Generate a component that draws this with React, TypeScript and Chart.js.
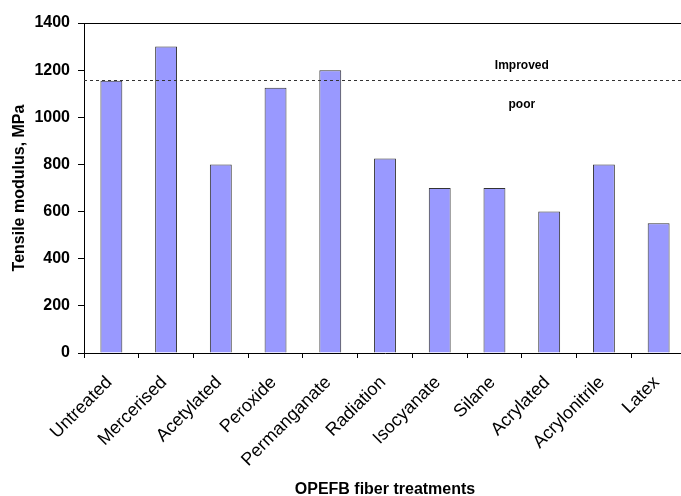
import React, { useEffect, useRef } from "react";
import { Chart, registerables } from "chart.js";

Chart.register(...registerables);

const categories = [
  "Untreated",
  "Mercerised",
  "Acetylated",
  "Peroxide",
  "Permanganate",
  "Radiation",
  "Isocyanate",
  "Silane",
  "Acrylated",
  "Acrylonitrile",
  "Latex",
];
const modulusValues = [1155, 1300, 800, 1125, 1200, 825, 700, 700, 600, 800, 550];
const thresholdValue = 1157;
const improvedLabel = "Improved";
const poorLabel = "poor";
const improvedLabelValue = 1220;
const poorLabelValue = 1052;
const labelCategoryPos = 7.5;
const yTicksMax = 1400;
const yTickStep = 200;

const FONT = "'Liberation Sans', Arial, sans-serif";

const overlayPlugin = {
  id: "overlay",
  afterDatasetsDraw(chart: any) {
    const { ctx, chartArea, scales } = chart;
    const y = scales.y;
    const x = scales.x;
    ctx.save();
    ctx.strokeStyle = "#000";
    ctx.lineWidth = 1;
    ctx.beginPath();
    ctx.moveTo(chartArea.left, Math.round(chartArea.top) + 0.5);
    ctx.lineTo(chartArea.right, Math.round(chartArea.top) + 0.5);
    ctx.lineTo(chartArea.right, chartArea.bottom);
    ctx.stroke();
    const ty = Math.round(y.getPixelForValue(thresholdValue)) + 0.5;
    ctx.strokeStyle = "#333";
    ctx.setLineDash([3, 3]);
    ctx.beginPath();
    ctx.moveTo(chartArea.left, ty);
    ctx.lineTo(chartArea.right, ty);
    ctx.stroke();
    ctx.setLineDash([]);
    ctx.fillStyle = "#000";
    ctx.font = `bold 12px ${FONT}`;
    ctx.textAlign = "center";
    ctx.textBaseline = "middle";
    const lx = x.getPixelForValue(labelCategoryPos);
    ctx.fillText(improvedLabel, lx, y.getPixelForValue(improvedLabelValue));
    ctx.fillText(poorLabel, lx, y.getPixelForValue(poorLabelValue));
    ctx.restore();
  },
};

export default function App() {
  const canvasRef = useRef<HTMLCanvasElement | null>(null);

  useEffect(() => {
    if (!canvasRef.current) return;
    const chart = new Chart(canvasRef.current, {
      type: "bar",
      data: {
        labels: categories,
        datasets: [
          {
            data: modulusValues,
            backgroundColor: "#9999FF",
            borderColor: "#333333",
            borderWidth: 1,
            barPercentage: 0.4,
            categoryPercentage: 1,
          },
        ],
      },
      options: {
        responsive: false,
        animation: false,
        layout: { padding: { left: 0, top: 23, right: 14, bottom: 0 } },
        plugins: {
          legend: { display: false },
          tooltip: { enabled: false },
        },
        scales: {
          x: {
            grid: {
              offset: true,
              drawOnChartArea: false,
              drawTicks: true,
              tickLength: 5,
              color: "#000",
            },
            border: { color: "#000" },
            ticks: {
              color: "#000",
              font: { family: FONT, size: 18 },
              minRotation: 45,
              maxRotation: 45,
              autoSkip: false,
              padding: 14,
              labelOffset: -2,
            },
            title: {
              display: true,
              text: "OPEFB fiber treatments",
              color: "#000",
              font: { family: FONT, size: 16, weight: "bold" },
              padding: { top: 0, bottom: -3 },
            },
            afterFit(scale: any) {
              scale.height = 143;
            },
          },
          y: {
            min: 0,
            max: yTicksMax,
            grid: {
              drawOnChartArea: false,
              drawTicks: true,
              tickLength: 6,
              color: "#000",
            },
            border: { color: "#000" },
            ticks: {
              stepSize: yTickStep,
              color: "#000",
              font: { family: FONT, size: 16, weight: "bold" },
              padding: 8,
              callback: (v: any) => String(v),
            },
            title: {
              display: true,
              text: "Tensile modulus, MPa",
              color: "#000",
              font: { family: FONT, size: 16, weight: "bold" },
              padding: { top: 10, bottom: 0 },
            },
            afterFit(scale: any) {
              scale.width = 84;
            },
          },
        },
      },
      plugins: [overlayPlugin],
    });
    return () => chart.destroy();
  }, []);

  return (
    <div
      style={{
        position: "absolute",
        left: 0,
        top: 0,
        width: 681,
        height: 496,
        overflow: "hidden",
        background: "#fff",
      }}
    >
      <canvas ref={canvasRef} width={700} height={496} style={{ display: "block" }} />
    </div>
  );
}
